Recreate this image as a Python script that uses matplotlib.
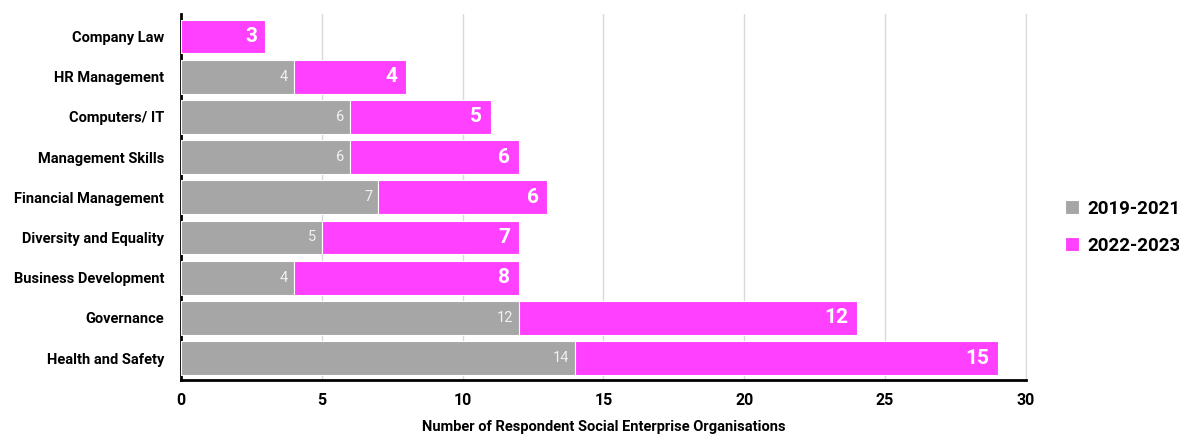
import matplotlib
matplotlib.use("Agg")
import matplotlib.pyplot as plt
import numpy as np

categories = ["Company Law", "HR Management", "Computers/ IT", "Management Skills",
              "Financial Management", "Diversity and Equality", "Business Development",
              "Governance", "Health and Safety"]
early = [0, 4, 6, 6, 7, 5, 4, 12, 14]    # 2019-2021
late = [3, 4, 5, 6, 6, 7, 8, 12, 15]     # 2022-2023
series_names = ["2019-2021", "2022-2023"]
xticks = [0, 5, 10, 15, 20, 25, 30]

plt.rcParams['font.family'] = ['Roboto', 'DejaVu Sans']

gray = "#a6a6a6"
pink = "#ff40ff"

fig = plt.figure(figsize=(11.79, 4.37), dpi=100)
ax = fig.add_axes([0.1535, 0.13, 0.7165, 0.838])

y = np.arange(len(categories))
ax.barh(y, early, height=0.84, color=gray, edgecolor="white", linewidth=0.8,
        label=series_names[0], zorder=3)
ax.barh(y, late, left=early, height=0.84, color=pink, edgecolor="white", linewidth=0.8,
        label=series_names[1], zorder=3)

for yi, e, l in zip(y, early, late):
    if e > 0:
        ax.text(e - 0.2, yi, str(e), ha="right", va="center", color="#f2f2f2",
                fontsize=10.5, zorder=4)
    ax.text(e + l - 0.3, yi, str(l), ha="right", va="center", color="white",
            fontsize=15, fontweight="bold", zorder=4)

ax.set_xlim(0, 30)
ax.set_ylim(len(categories) - 0.45, -0.56)
ax.set_yticks(y)
ax.set_yticklabels(categories, fontsize=10.5, fontweight="bold")
ax.set_xticks(xticks)
ax.set_xticklabels([str(t) for t in xticks], fontsize=11.5, fontweight="bold")
ax.tick_params(axis="both", length=0)
ax.tick_params(axis="x", pad=9)
ax.tick_params(axis="y", pad=12)
ax.grid(axis="x", color="#d9d9d9", linewidth=1, zorder=0)
ax.spines["top"].set_visible(False)
ax.spines["right"].set_color("#d9d9d9")
ax.spines["left"].set_linewidth(2)
ax.spines["bottom"].set_linewidth(2)
ax.set_xlabel("Number of Respondent Social Enterprise Organisations", fontsize=10.5,
              fontweight="bold", labelpad=9)

handles, labels = ax.get_legend_handles_labels()
fig.legend(handles, labels, loc="center left", bbox_to_anchor=(0.895, 0.48),
           frameon=False, borderpad=0, prop={"size": 13.5, "weight": "bold"},
           handlelength=0.75, handleheight=0.75, labelspacing=1.0, handletextpad=0.45)

fig.savefig("out.png", dpi=100)
